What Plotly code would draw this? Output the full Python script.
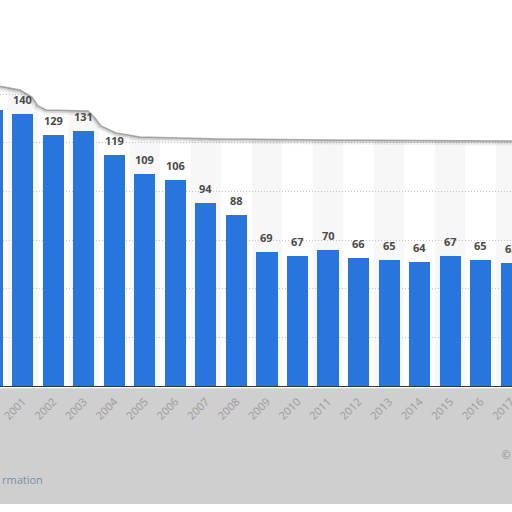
import plotly.graph_objs as go

# data
years = list(range(2000, 2018))
values = [142, 140, 129, 131, 119, 109, 106, 94, 88, 69, 67, 70, 66, 65, 64, 67, 65, 63]
tick_text = [str(y) for y in years]

bar_color = "#2876dd"
H_PLOT = 386  # pixel height of plot area


def px_to_paper(x, y):
    return x / 512, 1 - y / H_PLOT


# edge of the white "torn" card at the top (pixels)
edge = [(-2, 86), (20, 90), (32, 97), (38, 106), (46, 110), (88, 111), (95, 118),
        (101, 126), (116, 133), (140, 137), (220, 139), (330, 140), (514, 141)]


def edge_path(close):
    pts = [px_to_paper(x, y) for x, y in edge]
    d = "M " + " L ".join(f"{a:.4f},{b:.4f}" for a, b in pts)
    if close:
        d = "M -0.01,1.01 L " + d[2:] + " L 1.01,1.01 Z"
    return d


fig = go.Figure()

fig.add_trace(go.Bar(
    x=years,
    y=values,
    width=0.69,
    marker=dict(color=bar_color, line=dict(width=0)),
    hoverinfo="skip",
))

# value labels above the bars
for yr, v in zip(years, values):
    fig.add_annotation(
        x=yr, y=v, text=str(v), showarrow=False,
        yanchor="bottom", yshift=5,
        font=dict(family="Open Sans", size=11, color="#4a4a4a", weight="bold"),
    )

shapes = []
# faint alternating column stripes
for yr in years:
    if yr % 2 == 1:
        shapes.append(dict(type="rect", xref="x", yref="paper", x0=yr - 0.5, x1=yr + 0.5,
                           y0=0, y1=1, fillcolor="#f7f7f7", line=dict(width=0), layer="below"))
# grey footer band
shapes.append(dict(type="rect", xref="paper", yref="paper", x0=0, x1=1,
                   y0=-0.006, y1=-(504 - H_PLOT) / H_PLOT,
                   fillcolor="#cfcfcf", line=dict(width=0), layer="below"))
# white area on top with a soft shadow along the edge
shapes.append(dict(type="path", xref="paper", yref="paper", path=edge_path(False),
                   line=dict(color="rgba(0,0,0,0.06)", width=9), layer="above"))
shapes.append(dict(type="path", xref="paper", yref="paper", path=edge_path(False),
                   line=dict(color="rgba(0,0,0,0.12)", width=5), layer="above"))
shapes.append(dict(type="path", xref="paper", yref="paper", path=edge_path(True),
                   fillcolor="white", line=dict(width=0), layer="above"))
shapes.append(dict(type="path", xref="paper", yref="paper", path=edge_path(False),
                   line=dict(color="rgba(120,120,120,0.6)", width=1.5), layer="above"))
fig.update_layout(shapes=shapes)

fig.add_annotation(x=0, y=-(479 - H_PLOT) / H_PLOT, xref="paper", yref="paper",
                   text="rmation", showarrow=False, xanchor="left", yanchor="middle",
                   font=dict(family="Open Sans", size=11, color="#7890a4"))
fig.add_annotation(x=1, y=-(455 - H_PLOT) / H_PLOT, xref="paper", yref="paper",
                   text="©", showarrow=False, xanchor="right", yanchor="middle",
                   font=dict(family="Open Sans", size=10, color="#8a8a8a"))

fig.update_layout(
    width=512,
    height=512,
    margin=dict(l=0, r=0, t=0, b=512 - H_PLOT, pad=0),
    paper_bgcolor="white",
    plot_bgcolor="white",
    showlegend=False,
    bargap=0,
    xaxis=dict(
        range=[2000.25, 2017.03],
        tickvals=years,
        ticktext=tick_text,
        tickangle=-45,
        tickfont=dict(family="Open Sans", size=11, color="#9a9a9a"),
        ticklabelstandoff=4,
        ticklabeloverflow="allow",
        showgrid=False,
        showline=True,
        linecolor="#333333",
        linewidth=1,
        ticks="",
        automargin=False,
        fixedrange=True,
    ),
    yaxis=dict(
        range=[0, H_PLOT / 1.945],
        tickvals=[0, 25, 50, 75, 100, 125, 150, 175],
        showticklabels=False,
        showgrid=True,
        gridcolor="#c4c4c4",
        griddash="1px,2px",
        gridwidth=1,
        zeroline=False,
        automargin=False,
        fixedrange=True,
    ),
)

# the page body has an 8px default margin; drop it so the figure fills the window
fig.write_html(
    "out.html",
    config={"displayModeBar": False},
    post_script="document.body.style.margin='0';document.body.style.overflow='hidden';",
)
